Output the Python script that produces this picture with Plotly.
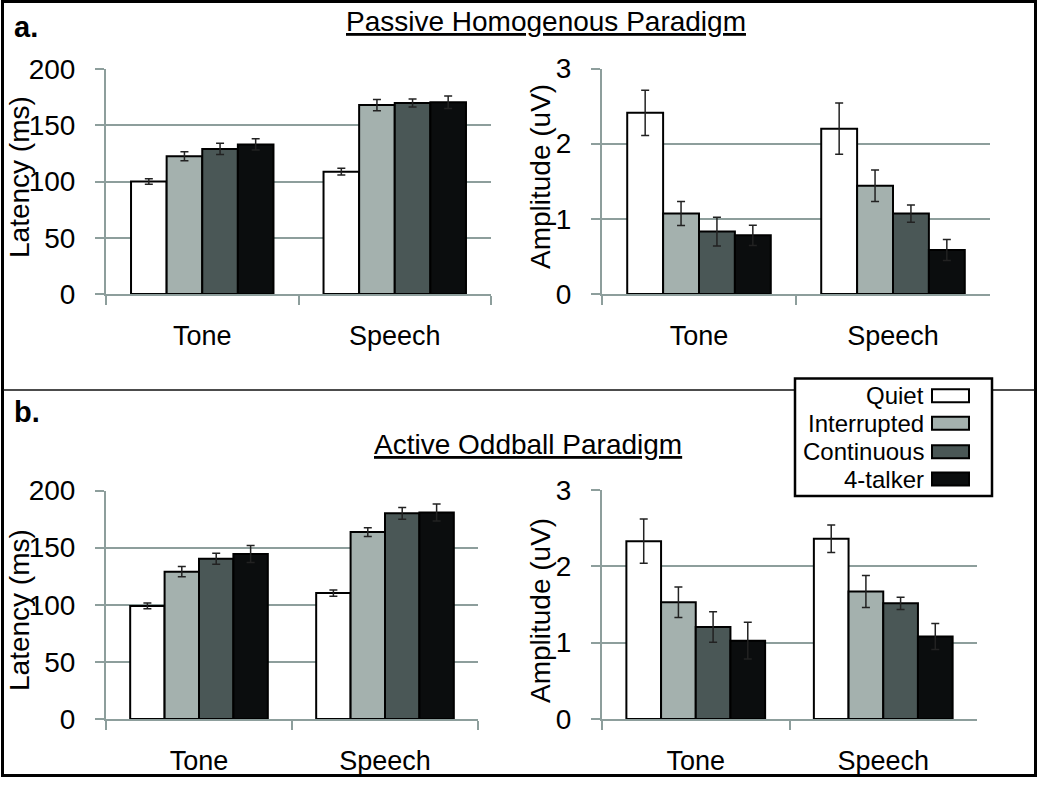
import plotly.graph_objects as go

W, H = 1050, 786

categories = ["Tone", "Speech"]
series = ["Quiet", "Interrupted", "Continuous", "4-talker"]
colors = ["#ffffff", "#a4b1ae", "#4a5756", "#0b0d0e"]

# rows = series (Quiet, Interrupted, Continuous, 4-talker), columns = categories (Tone, Speech)
passive_latency = [[100, 108.7], [122.4, 168], [128.9, 169.8], [133, 170.4]]
passive_latency_err = [[2.5, 3], [4, 5], [5, 3.5], [5, 5.5]]
passive_amp = [[2.41, 2.20], [1.07, 1.44], [0.83, 1.07], [0.78, 0.585]]
passive_amp_err = [[0.30, 0.34], [0.16, 0.21], [0.19, 0.115], [0.135, 0.14]]
active_latency = [[99, 110.2], [128.9, 163.6], [140.2, 180], [144.4, 180.8]]
active_latency_err = [[2.6, 2.8], [4.5, 3.8], [4.8, 5.2], [7.4, 7.4]]
active_amp = [[2.33, 2.36], [1.53, 1.67], [1.205, 1.515], [1.026, 1.08]]
active_amp_err = [[0.29, 0.18], [0.20, 0.21], [0.20, 0.08], [0.24, 0.17]]

panel_titles = ["Passive Homogenous Paradigm", "Active Oddball Paradigm"]
panel_letters = ["a.", "b."]
latency_title = "Latency (ms)"
amp_title = "Amplitude (uV)"

FONT = "Liberation Sans, Arial, sans-serif"
GRID = "#8d9e9c"


def px_x(x):
    return x / W


def px_y(y):
    return 1 - y / H


# plot areas in pixels: (x0, x1, y_top, y_bottom)
areas = [
    (106, 491, 69, 294),
    (602, 990, 68.5, 294),
    (106, 478, 490.5, 719),
    (602, 977, 490, 719),
]
panels = [
    (passive_latency, passive_latency_err, [0, 200], 50),
    (passive_amp, passive_amp_err, [0, 3], 1),
    (active_latency, active_latency_err, [0, 200], 50),
    (active_amp, active_amp_err, [0, 3], 1),
]

fig = go.Figure()
layout = dict()
for i, ((vals, errs, rng, dt), (x0, x1, yt, yb)) in enumerate(zip(panels, areas)):
    n = "" if i == 0 else str(i + 1)
    for s, name in enumerate(series):
        fig.add_trace(go.Bar(
            x=categories, y=vals[s], name=name,
            marker=dict(color=colors[s], line=dict(color="#000000", width=2)),
            error_y=dict(type="data", array=errs[s], color="#222222", thickness=1.5, width=4),
            xaxis="x" + n, yaxis="y" + n, showlegend=False,
        ))
    layout["xaxis" + n] = dict(
        domain=[px_x(x0), px_x(x1)], anchor="y" + n, type="category", automargin=False,
        showline=True, linecolor=GRID, linewidth=2,
        ticks="outside", tickson="boundaries", ticklen=9, tickwidth=2, tickcolor=GRID,
        showgrid=False, tickfont=dict(family=FONT, size=27, color="#000"),
        ticklabelstandoff=17,
    )
    layout["yaxis" + n] = dict(
        domain=[px_y(yb), px_y(yt)], anchor="x" + n, range=rng, dtick=dt, automargin=False,
        showline=True, linecolor=GRID, linewidth=2,
        ticks="outside", ticklen=9, tickwidth=2, tickcolor=GRID,
        showgrid=True, gridcolor=GRID, gridwidth=2, zeroline=False,
        tickfont=dict(family=FONT, size=28, color="#000"),
        ticklabelstandoff=14,
    )

annotations = []
shapes = []

# panel letters and titles
for letter, ly in zip(panel_letters, [27, 412]):
    annotations.append(dict(text="<b>%s</b>" % letter, x=px_x(12), y=px_y(ly), xref="paper", yref="paper",
                            xanchor="left", yanchor="middle", showarrow=False,
                            font=dict(family=FONT, size=29, color="#000")))
for title, tx, ty in zip(panel_titles, [546, 528], [22, 444]):
    annotations.append(dict(text="<u>%s</u>" % title, x=px_x(tx), y=px_y(ty), xref="paper", yref="paper",
                            xanchor="center", yanchor="middle", showarrow=False,
                            font=dict(family=FONT, size=28, color="#000")))

# axis titles
for text, ax, ay in [(latency_title, 19, 177), (amp_title, 540, 177),
                     (latency_title, 19, 610), (amp_title, 540, 611)]:
    annotations.append(dict(text=text, x=px_x(ax), y=px_y(ay), xref="paper", yref="paper",
                            xanchor="center", yanchor="middle", textangle=-90, showarrow=False,
                            font=dict(family=FONT, size=28, color="#000")))

# outer border and separator
shapes.append(dict(type="rect", xref="paper", yref="paper", x0=px_x(2.5), x1=px_x(1035.5),
                   y0=px_y(775.5), y1=px_y(1.5), line=dict(color="#000", width=3)))
shapes.append(dict(type="line", xref="paper", yref="paper", x0=px_x(3), x1=px_x(795),
                   y0=px_y(390), y1=px_y(390), line=dict(color="#111", width=1.5)))
shapes.append(dict(type="line", xref="paper", yref="paper", x0=px_x(992), x1=px_x(1035),
                   y0=px_y(390), y1=px_y(390), line=dict(color="#111", width=1.5)))

# legend box
shapes.append(dict(type="rect", xref="paper", yref="paper", x0=px_x(795), x1=px_x(992),
                   y0=px_y(496), y1=px_y(378.5), line=dict(color="#000", width=2.5),
                   fillcolor="#fff", layer="above"))
row_y = [395.7, 423.3, 451.7, 479]
for name, col, ry in zip(series, colors, row_y):
    shapes.append(dict(type="rect", xref="paper", yref="paper", x0=px_x(932), x1=px_x(969),
                       y0=px_y(ry + 6.5), y1=px_y(ry - 6.5), line=dict(color="#000", width=2),
                       fillcolor=col, layer="above"))
    annotations.append(dict(text=name, x=px_x(926), y=px_y(ry), xref="paper", yref="paper",
                            xanchor="right", yanchor="middle", showarrow=False,
                            font=dict(family=FONT, size=24, color="#000")))

fig.update_layout(
    template="none",
    width=W, height=H, margin=dict(l=0, r=0, t=0, b=0, pad=0, autoexpand=False),
    paper_bgcolor="#fff", plot_bgcolor="#fff",
    barmode="group", bargap=0.26, bargroupgap=0,
    annotations=annotations, shapes=shapes,
    font=dict(family=FONT, color="#000"),
    **layout,
)

fig.write_html("out.html", config={"displayModeBar": False},
               post_script="document.body.style.margin='0px';")
